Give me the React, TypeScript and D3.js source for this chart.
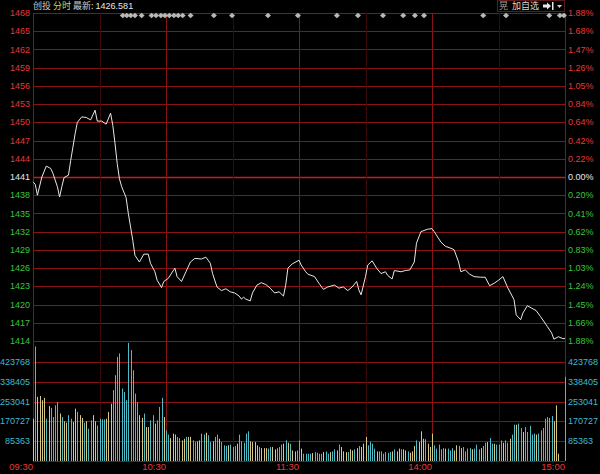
import { useEffect, useRef } from "react";
import * as d3 from "d3";

// price grid (left axis) and percent change (right axis)
const priceTicks = [1468, 1465, 1462, 1459, 1456, 1453, 1450, 1447, 1444, 1441, 1438, 1435, 1432, 1429, 1426, 1423, 1420, 1417, 1414];
const pctTicks = ["1.88%", "1.68%", "1.47%", "1.26%", "1.05%", "0.84%", "0.64%", "0.42%", "0.22%", "0.00%", "0.20%", "0.41%", "0.62%", "0.83%", "1.03%", "1.24%", "1.45%", "1.66%", "1.88%"];
const preClose = 1441;
const volTicks = [423768, 338405, 253041, 170727, 85363];

const timeLabels = ["09:30", "10:30", "11:30", "14:00", "15:00"];
const timeMinutes = [0, 60, 120, 180, 240];
const halfHourMinutes = [30, 90, 150, 210];

// intraday price, read at [minute, price]
const priceMinutes = [0, 1, 2, 4, 6, 8, 9, 11, 12, 13, 14, 16, 17, 19, 20, 22, 24, 26, 28, 29, 31, 33, 35, 36, 37, 38, 39, 40, 42, 43, 45, 46, 48, 50, 52, 53, 55, 56, 58, 59, 61, 64, 65, 67, 69, 71, 73, 76, 78, 80, 81, 83, 85, 87, 89, 91, 93, 94, 95, 96, 98, 99, 101, 103, 105, 107, 109, 111, 113, 114, 115, 117, 120, 121, 123, 124, 127, 129, 131, 133, 136, 138, 140, 142, 144, 146, 147, 148, 150, 151, 153, 155, 157, 159, 160, 162, 163, 166, 168, 170, 172, 173, 175, 178, 180, 181, 184, 186, 189, 190, 192, 193, 195, 197, 199, 202, 204, 206, 208, 210, 212, 214, 217, 218, 220, 221, 223, 225, 227, 229, 232, 234, 235, 237, 239, 240];
const priceValues = [1440.2, 1439.8, 1438.0, 1441.0, 1442.8, 1442.4, 1441.6, 1439.4, 1437.7, 1439.4, 1440.9, 1441.3, 1443.7, 1448.1, 1450.0, 1450.9, 1450.8, 1450.4, 1452.0, 1450.2, 1450.2, 1449.7, 1451.5, 1449.5, 1446.5, 1443.2, 1440.7, 1439.4, 1437.6, 1435.0, 1430.6, 1428.1, 1427.0, 1428.3, 1428.3, 1426.8, 1425.4, 1424.0, 1422.8, 1423.8, 1424.3, 1426.0, 1424.6, 1423.8, 1425.4, 1427.0, 1427.6, 1427.5, 1427.8, 1426.8, 1425.1, 1422.9, 1422.3, 1422.6, 1422.1, 1421.9, 1421.4, 1420.9, 1421.2, 1420.9, 1420.6, 1421.9, 1423.2, 1423.6, 1423.3, 1422.7, 1421.9, 1422.1, 1421.4, 1423.2, 1426.0, 1426.7, 1427.3, 1426.5, 1425.4, 1425.0, 1424.6, 1423.5, 1422.5, 1422.9, 1423.2, 1422.7, 1422.9, 1422.3, 1422.9, 1423.8, 1422.4, 1421.6, 1424.6, 1426.5, 1427.2, 1426.0, 1425.1, 1425.4, 1424.8, 1424.2, 1425.6, 1425.4, 1425.6, 1425.7, 1427.0, 1430.1, 1432.0, 1432.4, 1432.5, 1432.0, 1430.3, 1429.6, 1429.2, 1429.0, 1427.0, 1425.4, 1425.7, 1425.0, 1424.6, 1424.5, 1424.5, 1423.1, 1423.5, 1424.0, 1424.6, 1422.9, 1420.8, 1418.3, 1417.5, 1418.6, 1419.8, 1419.4, 1419.0, 1418.0, 1416.4, 1415.3, 1414.3, 1414.7, 1414.4, 1414.4];

// per-minute volume, in thousands (241 bars, 09:30 .. 15:00)
const volumeK = [
  181, 490, 274, 278, 260, 270, 181, 235, 227, 188,
  238, 252, 203, 188, 170, 164, 196, 181, 167, 224,
  210, 196, 184, 164, 170, 138, 174, 196, 170, 152,
  181, 178, 178, 181, 210, 245, 303, 367, 445, 460,
  310, 295, 260, 505, 474, 388, 288, 252, 196, 184,
  203, 145, 145, 174, 196, 160, 174, 231, 270, 188,
  131, 113, 98, 117, 113, 103, 98, 88, 95, 103,
  103, 103, 88, 81, 84, 88, 117, 113, 121, 110,
  81, 84, 103, 113, 95, 81, 67, 64, 67, 70,
  60, 64, 74, 113, 84, 78, 117, 127, 84, 81,
  81, 67, 60, 55, 55, 55, 53, 60, 60, 50,
  55, 60, 70, 74, 88, 78, 74, 45, 41, 45,
  88, 53, 31, 31, 31, 31, 34, 38, 35, 31,
  31, 38, 41, 31, 38, 41, 50, 45, 70, 60,
  41, 38, 38, 50, 45, 50, 55, 64, 60, 74,
  103, 67, 81, 74, 53, 41, 41, 41, 31, 38,
  35, 38, 41, 50, 41, 53, 50, 50, 45, 41,
  35, 41, 64, 88, 81, 127, 95, 93, 74, 60,
  117, 67, 53, 70, 50, 55, 53, 53, 45, 55,
  45, 67, 64, 55, 60, 41, 53, 55, 50, 53,
  70, 50, 55, 64, 78, 81, 98, 74, 74, 70,
  70, 88, 78, 88, 78, 95, 113, 155, 155, 160,
  141, 124, 145, 124, 150, 113, 117, 113, 117, 131,
  141, 181, 188, 184, 192, 170, 238, 31, 0, 0,
  360,
];
// u = minute closed up (yellow), d = down (cyan)
const volumeDir = [
  "uduuuududd", "dduduudduu", "duududduud", "ddduuudddd", "dddddddduu",
  "duuddudddu", "dduuudduud", "uudduuddud", "duddudddud", "dduddddduu",
  "uuduuudduu", "dddududuud", "dudddduddd", "dudduddudu", "uuduududuu",
  "uddddudddd", "dduduuduud", "uuuduuuduu", "uddddduddd", "uududdddud",
  "ddudduddud", "ddudduddud", "dudddddudd", "ddddduuuuu", "d",
].join("");

// news markers along the top, in minutes from 09:30
const eventMinutes = [40.5, 42.3, 44.1, 46, 49, 53.5, 55.5, 57.7, 59.5, 61.5, 63.6, 65.5, 67.5, 71.1, 81.6, 89.8, 106, 119.5, 137.1, 146.6, 157.9, 167, 172.3, 176.4, 203.1, 213.4, 232.9, 237.7, 239.5];

const W = 600;
const H = 474;
const left = 33;
const right = 565;
const top = 13;
const mid = 341;
const bottom = 461;

const RED = "#e23a3a";
const GREEN = "#3cc43c";
const CYAN = "#3fb9cf";
const GRID = "#8a1414";
const FONT = "'Liberation Sans', Arial, sans-serif";
const CJK = "'Noto Sans CJK SC', sans-serif";

const App = () => {
  const ref = useRef<SVGSVGElement>(null);

  useEffect(() => {
    const svg = d3.select(ref.current);
    svg.selectAll("*").remove();

    const x = d3.scaleLinear().domain([0, 240]).range([left, right]);
    const y = d3.scaleLinear().domain([1414, 1468]).range([mid, top]);
    const yVol = d3.scaleLinear().domain([0, 513000]).range([bottom, mid]);

    svg.append("rect").attr("width", W).attr("height", H).attr("fill", "#000");

    // horizontal price grid
    svg
      .append("g")
      .selectAll("line")
      .data(priceTicks)
      .join("line")
      .attr("x1", left)
      .attr("x2", right)
      .attr("y1", (d) => Math.round(y(d)) + 0.5)
      .attr("y2", (d) => Math.round(y(d)) + 0.5)
      .attr("stroke", (d) => (d === preClose ? "#c41c1c" : GRID))
      .attr("stroke-width", (d) => (d === preClose ? 1.6 : 1));

    // volume grid
    svg
      .append("g")
      .selectAll("line")
      .data(volTicks)
      .join("line")
      .attr("x1", left)
      .attr("x2", right)
      .attr("y1", (d) => Math.round(yVol(d)) + 0.5)
      .attr("y2", (d) => Math.round(yVol(d)) + 0.5)
      .attr("stroke", GRID);

    // vertical grid
    svg
      .append("g")
      .selectAll("line")
      .data(halfHourMinutes)
      .join("line")
      .attr("x1", (d) => Math.round(x(d)) + 0.5)
      .attr("x2", (d) => Math.round(x(d)) + 0.5)
      .attr("y1", top)
      .attr("y2", bottom)
      .attr("stroke", "#3c0808");
    svg
      .append("g")
      .selectAll("line")
      .data(timeMinutes)
      .join("line")
      .attr("x1", (d) => Math.round(x(d)) + 0.5)
      .attr("x2", (d) => Math.round(x(d)) + 0.5)
      .attr("y1", top)
      .attr("y2", bottom)
      .attr("stroke", GRID);

    svg
      .append("line")
      .attr("x1", left)
      .attr("x2", right)
      .attr("y1", bottom + 0.5)
      .attr("y2", bottom + 0.5)
      .attr("stroke", GRID);

    // volume bars
    svg
      .append("g")
      .selectAll("rect")
      .data(volumeK)
      .join("rect")
      .attr("x", (_, i) => Math.round(x(i)))
      .attr("width", 1)
      .attr("y", (d) => yVol(d * 1000))
      .attr("height", (d) => bottom - yVol(d * 1000))
      .attr("fill", (_, i) => (volumeDir[i] === "u" ? "#d6c882" : "#4cbcc8"));

    // price line
    const pts = priceMinutes.map((m, i) => [m, priceValues[i]] as [number, number]);
    const line = d3
      .line<[number, number]>()
      .x((d) => x(d[0]))
      .y((d) => y(d[1]));
    svg
      .append("path")
      .datum(pts)
      .attr("fill", "none")
      .attr("stroke", "#e8e8e8")
      .attr("stroke-width", 1)
      .attr("d", line);

    // left price labels
    svg
      .append("g")
      .selectAll("text")
      .data(priceTicks)
      .join("text")
      .attr("x", 30)
      .attr("y", (d) => y(d))
      .attr("dy", "0.35em")
      .attr("text-anchor", "end")
      .attr("font-family", FONT)
      .attr("font-size", 9)
      .attr("fill", (d) => (d > preClose ? RED : d < preClose ? GREEN : "#e8e8e8"))
      .text((d) => d);

    // right percent labels
    svg
      .append("g")
      .selectAll("text")
      .data(pctTicks)
      .join("text")
      .attr("x", 568)
      .attr("y", (_, i) => y(priceTicks[i]))
      .attr("dy", "0.35em")
      .attr("font-family", FONT)
      .attr("font-size", 9)
      .attr("fill", (_, i) => (priceTicks[i] > preClose ? RED : priceTicks[i] < preClose ? GREEN : "#e8e8e8"))
      .text((d) => d);

    // volume labels both sides
    [
      { xPos: 30, anchor: "end" },
      { xPos: 568, anchor: "start" },
    ].forEach((s) => {
      svg
        .append("g")
        .selectAll("text")
        .data(volTicks)
        .join("text")
        .attr("x", s.xPos)
        .attr("y", (d) => yVol(d))
        .attr("dy", "0.35em")
        .attr("text-anchor", s.anchor)
        .attr("font-family", FONT)
        .attr("font-size", 9)
        .attr("fill", CYAN)
        .text((d) => d);
    });

    // time labels
    svg
      .append("g")
      .selectAll("text")
      .data(timeLabels)
      .join("text")
      .attr("x", (_, i) => x(timeMinutes[i]))
      .attr("y", 470)
      .attr("text-anchor", "end")
      .attr("font-family", FONT)
      .attr("font-size", 9.5)
      .attr("fill", RED)
      .text((d) => d);

    // event diamonds
    svg
      .append("g")
      .selectAll("path")
      .data(eventMinutes)
      .join("path")
      .attr("transform", (d) => `translate(${x(d)},15.5)`)
      .attr("d", "M0,-2.8L3,0L0,2.8L-3,0Z")
      .attr("fill", "#b8b8b8");

    // header
    const head = svg.append("text").attr("x", left).attr("y", 9).attr("font-size", 9);
    head.append("tspan").attr("font-family", CJK).attr("fill", "#cfcfcf").text("创投 ");
    head.append("tspan").attr("font-family", CJK).attr("fill", "#d2d25a").text("分时 ");
    head.append("tspan").attr("font-family", CJK).attr("fill", "#cfcfcf").text("最新: ");
    head.append("tspan").attr("font-family", FONT).attr("fill", "#e8e8e8").text("1426.581");

    // top right box
    const box = svg.append("g");
    box
      .append("rect")
      .attr("x", 497.5)
      .attr("y", 0.5)
      .attr("width", 67)
      .attr("height", 11)
      .attr("fill", "#000")
      .attr("stroke", "#5a1a1a");
    box.append("text").attr("x", 499).attr("y", 9).attr("font-size", 9).attr("font-family", CJK).attr("fill", "#9a9a9a").text("晃");
    box.append("text").attr("x", 512).attr("y", 9).attr("font-size", 9).attr("font-family", CJK).attr("fill", "#d8d8d8").text("加自选");
    box.append("path").attr("d", "M543,4.5h4v-2l4,3.5l-4,3.5v-2h-4Z").attr("fill", "#e8e8e8");
    box.append("rect").attr("x", 552).attr("y", 2).attr("width", 1.5).attr("height", 8).attr("fill", "#e8e8e8");
    box.append("path").attr("d", "M557,5h5l-2.5,3Z").attr("fill", "#d0d0d0");
  }, []);

  return (
    <svg
      ref={ref}
      width={W}
      height={H}
      style={{ position: "absolute", left: 0, top: 0, display: "block" }}
    />
  );
};

export default App;
